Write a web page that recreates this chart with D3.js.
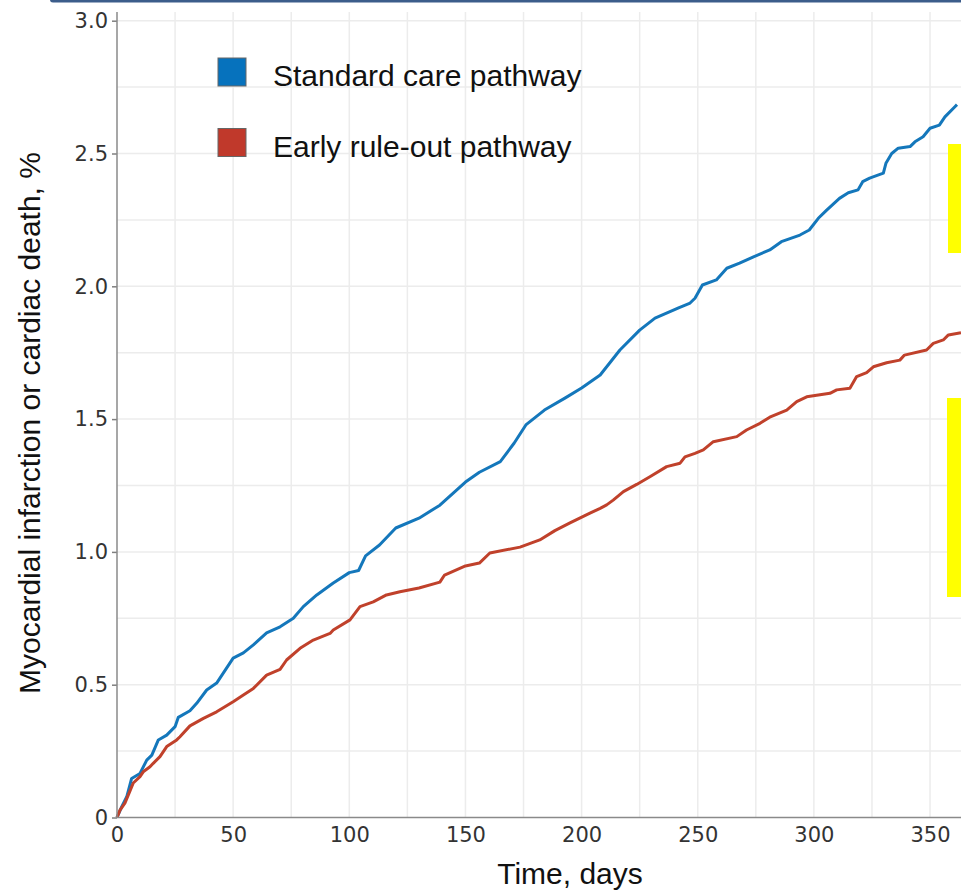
<!DOCTYPE html>
<html>
<head>
<meta charset="utf-8">
<script src="https://cdn.jsdelivr.net/npm/d3@7"></script>
<style>
  html, body { margin: 0; padding: 0; background: #fff; }
  svg { display: block; }
</style>
</head>
<body>
<div id="chart"></div>
<script>
// Cumulative incidence (days, %)
const standardDays = [0, 2, 4.2, 6.3, 9.9, 12.8, 15, 17.8, 21.4, 25, 26.4, 31.4, 34.3, 38.6, 42.9, 50, 54.4, 58.7, 64.4, 70.2, 75.9, 80.2, 86, 93.1, 100, 104, 107, 113, 120, 130, 139, 150, 156, 165, 171, 176, 184, 193, 200, 208, 216.5, 225, 231.6, 242, 246.7, 248.8, 252, 258, 262.5, 268, 274, 281, 286, 294, 298, 301.9, 305.5, 311, 314.8, 319, 321, 324, 329.9, 331, 333.5, 336.3, 341.4, 343.5, 347, 350, 354, 356.4, 360.7, 361.6];
const standardVals = [0, 0.04, 0.078, 0.147, 0.166, 0.216, 0.235, 0.292, 0.31, 0.342, 0.377, 0.402, 0.43, 0.48, 0.506, 0.6, 0.62, 0.65, 0.695, 0.718, 0.75, 0.794, 0.838, 0.883, 0.922, 0.93, 0.985, 1.026, 1.09, 1.127, 1.176, 1.263, 1.3, 1.34, 1.41, 1.478, 1.534, 1.58, 1.617, 1.666, 1.76, 1.835, 1.88, 1.92, 1.937, 1.955, 2.005, 2.024, 2.068, 2.087, 2.111, 2.137, 2.168, 2.193, 2.212, 2.256, 2.287, 2.331, 2.352, 2.363, 2.394, 2.407, 2.426, 2.463, 2.5, 2.52, 2.526, 2.544, 2.563, 2.595, 2.607, 2.638, 2.676, 2.684];

const earlyDays = [0, 1.3, 3.4, 5.6, 7, 9.9, 11.3, 14.2, 15.6, 18.5, 21.4, 25.7, 27.1, 31.4, 37.2, 42.9, 50, 54.4, 58.7, 64.4, 70.2, 73, 78.8, 84.5, 91.7, 93.1, 100.3, 104.6, 110.3, 116, 121.8, 130, 139, 141, 150, 156, 160.5, 173.5, 182, 188.5, 195, 203.6, 208, 210.8, 213.6, 218, 223.7, 229.4, 236.6, 242.4, 244.5, 248.8, 252.4, 256.7, 266.8, 271, 276.8, 281, 288.3, 292.6, 296.9, 306.9, 309.8, 315.5, 318.4, 322.7, 325.6, 331.3, 337, 339, 348.5, 351.4, 355.7, 357.9, 363.3];
const earlyVals = [0, 0.028, 0.054, 0.1, 0.13, 0.154, 0.172, 0.191, 0.204, 0.229, 0.267, 0.292, 0.304, 0.345, 0.373, 0.398, 0.436, 0.461, 0.486, 0.536, 0.558, 0.593, 0.637, 0.668, 0.693, 0.706, 0.744, 0.794, 0.812, 0.838, 0.85, 0.864, 0.886, 0.913, 0.947, 0.958, 0.996, 1.018, 1.045, 1.08, 1.109, 1.146, 1.164, 1.177, 1.195, 1.227, 1.254, 1.283, 1.321, 1.334, 1.358, 1.371, 1.384, 1.415, 1.434, 1.459, 1.484, 1.507, 1.534, 1.566, 1.584, 1.597, 1.61, 1.616, 1.66, 1.675, 1.697, 1.712, 1.722, 1.741, 1.76, 1.785, 1.798, 1.817, 1.825];

const seriesNames = ['Standard care pathway', 'Early rule-out pathway'];
const seriesColors = ['#1477bb', '#c0412b'];
const legendColors = ['#0672bd', '#c0392b'];

const yTicks = [0, 0.5, 1, 1.5, 2, 2.5, 3];
const yTickLabels = ['0', '0.5', '1.0', '1.5', '2.0', '2.5', '3.0'];
const yMinor = [0.25, 0.75, 1.25, 1.75, 2.25, 2.75];
const xTicks = [0, 50, 100, 150, 200, 250, 300, 350];
const xMinor = [25, 75, 125, 175, 225, 275, 325];

const width = 961, height = 891;

const svg = d3.select('#chart')
  .append('svg')
  .attr('width', width)
  .attr('height', height);

const x = d3.scaleLinear().domain([0, 365]).range([117, 117 + 365 * 2.323]);
const y = d3.scaleLinear().domain([0, 3]).range([817.5, 20.7]);
const panelTop = 12;

// grid
const grid = svg.append('g');
grid.selectAll('.hy')
  .data(yMinor.concat(yTicks.slice(1)))
  .enter().append('line')
  .attr('x1', x(0)).attr('x2', width)
  .attr('y1', d => y(d)).attr('y2', d => y(d))
  .attr('stroke', '#ececec').attr('stroke-width', 1.5);
grid.selectAll('.vx')
  .data(xMinor.concat(xTicks.slice(1)))
  .enter().append('line')
  .attr('x1', d => x(d)).attr('x2', d => x(d))
  .attr('y1', panelTop).attr('y2', y(0))
  .attr('stroke', '#ececec').attr('stroke-width', 1.5);

// lines
const line = d3.line()
  .x(d => x(d[0]))
  .y(d => y(d[1]));

const series = [
  d3.zip(standardDays, standardVals),
  d3.zip(earlyDays, earlyVals)
];

svg.selectAll('.series')
  .data(series)
  .enter().append('path')
  .attr('fill', 'none')
  .attr('stroke', (d, i) => seriesColors[i])
  .attr('stroke-width', 3)
  .attr('stroke-linejoin', 'round')
  .attr('d', line);

// axes
const yAxis = d3.axisLeft(y)
  .tickValues(yTicks)
  .tickFormat((d, i) => yTickLabels[i])
  .tickSize(5)
  .tickPadding(4);

const gy = svg.append('g')
  .attr('transform', `translate(${x(0)},0)`)
  .call(yAxis);
gy.select('.domain').remove();
gy.selectAll('.tick line').attr('stroke', '#7f7f7f').attr('stroke-width', 1.5);
gy.selectAll('.tick text')
  .attr('fill', '#333')
  .style('font-family', '"DejaVu Sans", Verdana, sans-serif')
  .style('font-size', '21px');

svg.append('line')
  .attr('x1', x(0)).attr('x2', x(0))
  .attr('y1', panelTop).attr('y2', y(0))
  .attr('stroke', '#8a8a8a').attr('stroke-width', 1.5);

const xAxis = d3.axisBottom(x)
  .tickValues(xTicks)
  .tickSize(0)
  .tickPadding(10);

const gx = svg.append('g')
  .attr('transform', `translate(0,${y(0)})`)
  .call(xAxis);
gx.select('.domain').remove();
gx.selectAll('.tick text')
  .attr('fill', '#333')
  .style('font-family', '"DejaVu Sans", Verdana, sans-serif')
  .style('font-size', '21px');

svg.append('line')
  .attr('x1', x(0)).attr('x2', width)
  .attr('y1', y(0)).attr('y2', y(0))
  .attr('stroke', '#8a8a8a').attr('stroke-width', 1.5);

// titles
svg.append('text')
  .attr('transform', 'translate(40,423) rotate(-90)')
  .attr('text-anchor', 'middle')
  .style('font-family', '"Liberation Sans", Arial, sans-serif')
  .style('font-size', '30px')
  .attr('fill', '#111')
  .text('Myocardial infarction or cardiac death, %');

svg.append('text')
  .attr('x', 570)
  .attr('y', 884)
  .attr('text-anchor', 'middle')
  .style('font-family', '"Liberation Sans", Arial, sans-serif')
  .style('font-size', '30px')
  .attr('fill', '#111')
  .text('Time, days');

// legend
const legend = svg.append('g').attr('transform', 'translate(218,58)');
const items = legend.selectAll('g')
  .data(seriesNames)
  .enter().append('g')
  .attr('transform', (d, i) => `translate(0,${i * 70.5})`);
items.append('rect')
  .attr('width', 28).attr('height', 28)
  .attr('fill', (d, i) => legendColors[i])
  .attr('stroke', '#666').attr('stroke-width', 1);
items.append('text')
  .attr('x', 55).attr('y', 28)
  .style('font-family', '"Liberation Sans", Arial, sans-serif')
  .style('font-size', '30px')
  .attr('fill', '#111')
  .text(d => d);

// overlay marks on the right edge and top bar
svg.append('rect')
  .attr('x', 948).attr('y', 144).attr('width', 13).attr('height', 109)
  .attr('fill', '#ffff00');
svg.append('rect')
  .attr('x', 947).attr('y', 398).attr('width', 14).attr('height', 199)
  .attr('fill', '#ffff00');
svg.append('rect')
  .attr('x', 50).attr('y', -4).attr('width', 930).attr('height', 6.5)
  .attr('rx', 3)
  .attr('fill', '#3c5d8b');
</script>
</body>
</html>
